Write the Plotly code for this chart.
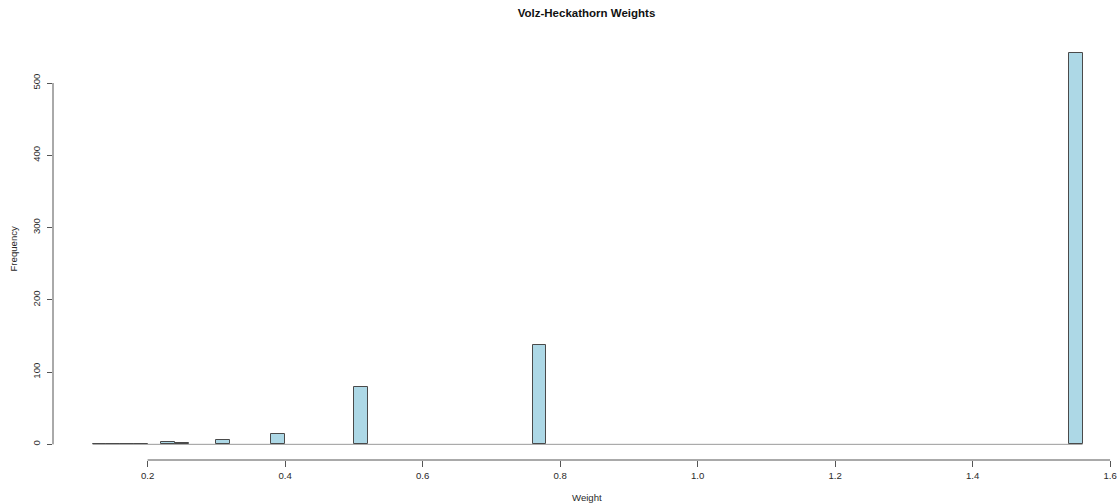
import numpy as np
import plotly.graph_objects as go

# Histogram of Volz-Heckathorn weights (bin width 0.02)
bin_width = 0.02
first_break = 0.12
last_break = 1.56
# left edges of the occupied bins and their counts
bin_lefts = [0.12, 0.14, 0.16, 0.18, 0.22, 0.24, 0.30, 0.38, 0.50, 0.76, 1.54]
bin_counts = [1, 1, 1, 1, 3, 2, 6, 14, 79, 137, 542]

x_ticks = [0.2, 0.4, 0.6, 0.8, 1.0, 1.2, 1.4, 1.6]
x_tick_text = ["0.2", "0.4", "0.6", "0.8", "1.0", "1.2", "1.4", "1.6"]
y_ticks = [0, 100, 200, 300, 400, 500]
y_tick_text = ["0", "100", "200", "300", "400", "500"]

n_bins = int(round((last_break - first_break) / bin_width))
lefts = first_break + bin_width * np.arange(n_bins)
counts = np.zeros(n_bins)
for left, c in zip(bin_lefts, bin_counts):
    counts[int(round((left - first_break) / bin_width))] = c
centers = lefts + bin_width / 2

fill = "#ADD8E6"
edge = "#4a4a4a"
axis_col = "#555555"
text_col = "#2a2a2a"
font = "Liberation Sans, Arial, sans-serif"

fig = go.Figure()
fig.add_trace(go.Bar(
    x=centers[counts > 0], y=counts[counts > 0], width=bin_width,
    marker=dict(color=fill, line=dict(color=edge, width=1)),
    hoverinfo="x+y", showlegend=False,
))

# R-style extended ranges (4% padding)
ymax = max(bin_counts)
ypad = 0.04 * ymax
xpad = 0.04 * (last_break - first_break)

shapes = [
    # zero-height rectangles of the empty bins form a baseline
    dict(type="line", xref="x", yref="y", x0=first_break, x1=last_break, y0=0, y1=0,
         line=dict(color="#9a9a9a", width=1), layer="below"),
    # axis lines spanning the first to the last tick
    dict(type="line", xref="x", yref="paper", x0=x_ticks[0], x1=x_ticks[-1], y0=0, y1=0,
         line=dict(color=axis_col, width=1)),
    dict(type="line", xref="paper", yref="y", x0=0, x1=0, y0=y_ticks[0], y1=y_ticks[-1],
         line=dict(color=axis_col, width=1)),
]

fig.update_layout(
    width=1120, height=503,
    margin=dict(l=53, r=0, t=37, b=43),
    paper_bgcolor="white", plot_bgcolor="white",
    font=dict(family=font, size=10, color=text_col),
    title=dict(text="<b>Volz-Heckathorn Weights</b>", x=0.5, xref="paper", xanchor="center",
               y=1, yref="container", yanchor="top", pad=dict(t=9),
               font=dict(family=font, size=11.5, color="#111111")),
    bargap=0,
    shapes=shapes,
    annotations=[
        dict(text="Weight", xref="paper", yref="paper", x=0.5, y=0, yanchor="middle",
             yshift=-37, showarrow=False, font=dict(family=font, size=9.6, color=text_col)),
        dict(text="Frequency", xref="paper", yref="paper", x=0, y=0.5, xanchor="center",
             xshift=-40, textangle=-90, showarrow=False,
             font=dict(family=font, size=9.6, color=text_col)),
    ],
)
fig.update_xaxes(
    range=[first_break - xpad, 0.2 + (1120 - 53 - 94.7) / 687.4],
    tickvals=x_ticks, ticktext=x_tick_text,
    ticks="outside", ticklen=6, tickcolor=axis_col, tickwidth=1,
    showline=False, showgrid=False, zeroline=False,
    tickfont=dict(family=font, size=9.6, color=text_col),
)
fig.update_yaxes(
    range=[-ypad, ymax + ypad],
    tickvals=y_ticks, ticktext=y_tick_text, tickangle=-90,
    ticks="outside", ticklen=5, tickcolor=axis_col, tickwidth=1,
    ticklabelstandoff=3,
    showline=False, showgrid=False, zeroline=False,
    tickfont=dict(family=font, size=9.6, color=text_col),
)

fig.write_html("out.html")
